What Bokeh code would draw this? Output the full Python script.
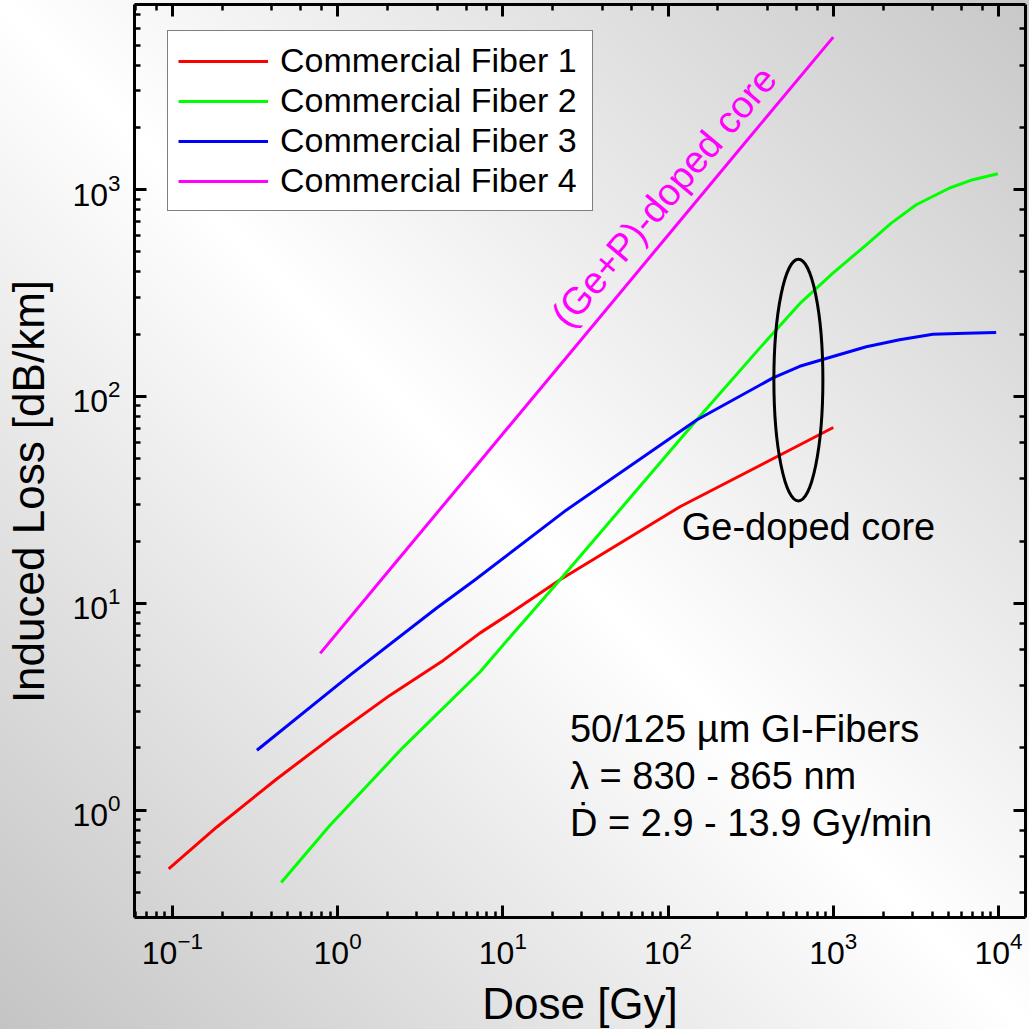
from bokeh.plotting import figure
from bokeh.models import (Range1d, LogAxis, LogTicker, Legend, LegendItem, Label,
                          CustomJSTickFormatter)
from bokeh.embed import file_html
from bokeh.resources import INLINE

# ---- data (Dose [Gy] vs Induced Loss [dB/km]) ----
fiber1_dose = [0.095, 0.186, 0.43, 0.90, 2.08, 4.36, 7.3, 11.1, 22.2, 118, 474, 1000]
fiber1_loss = [0.52, 0.83, 1.42, 2.22, 3.6, 5.3, 7.2, 8.95, 13.0, 29.3, 52, 70.8]

fiber2_dose = [0.456, 0.90, 2.50, 7.3, 11.1, 22.2, 149, 351, 627, 995, 1585, 2244, 3178, 5060, 7000, 9910]
fiber2_loss = [0.447, 0.846, 2.02, 4.67, 6.9, 13.0, 77, 168, 281, 395, 541, 689, 845, 1018, 1117, 1194]

fiber3_dose = [0.325, 1.19, 3.98, 6.8, 24.3, 149, 432, 627, 995, 1585, 2520, 4010, 6370, 9680]
fiber3_loss = [1.95, 4.5, 9.5, 13.0, 28.3, 77, 123, 140, 156, 174, 188, 200, 202, 204]

fiber4_dose = [0.785, 2.0, 7.3, 27, 100, 300, 1000]
fiber4_loss = [5.73, 14.1, 48.8, 171, 602, 1727, 5460]

series_names = ["Commercial Fiber 1", "Commercial Fiber 2",
                "Commercial Fiber 3", "Commercial Fiber 4"]
series_colors = ["#ff0000", "#00ff00", "#0000ff", "#ff00ff"]

ellipse_center_dose = [615]
ellipse_center_loss = [120]

FONT = "Liberation Sans"
NB = "\u00a0"

p = figure(x_axis_type="log", y_axis_type="log",
           x_range=Range1d(0.059, 14570), y_range=Range1d(0.303, 7850),
           frame_width=891, frame_height=913,
           min_border_left=134, min_border_right=4,
           min_border_top=4, min_border_bottom=112,
           output_backend="svg", toolbar_location=None)

p.background_fill_color = None
p.border_fill_color = None
p.outline_line_color = None
p.xgrid.visible = False
p.ygrid.visible = False
p.styles = {"background": "linear-gradient(45deg, #c4c4c4 0%, #ffffff 50%, #c8c8c8 100%)"}


def style_axis(ax, labels=True):
    ax.axis_line_width = 3
    ax.axis_line_color = "black"
    ax.major_tick_line_width = 3
    ax.minor_tick_line_width = 2.5
    ax.major_tick_in = 12
    ax.major_tick_out = 0
    ax.minor_tick_in = 6
    ax.minor_tick_out = 0
    ax.major_tick_line_color = "black"
    ax.minor_tick_line_color = "black"
    if labels:
        ax.major_label_text_font = FONT
        ax.major_label_text_font_size = "32px"
        ax.major_label_text_color = "black"
        ax.axis_label_text_font = FONT
        ax.axis_label_text_font_size = "44px"
        ax.axis_label_text_font_style = "normal"
        ax.axis_label_text_color = "black"
    else:
        ax.formatter = CustomJSTickFormatter(code="return ' ';")
        ax.major_label_text_font_size = "1px"
        ax.major_label_text_alpha = 0
        ax.major_label_standoff = 0


xa = p.xaxis[0]
ya = p.yaxis[0]
style_axis(xa)
style_axis(ya)
xa.axis_label = "Dose [Gy]"
ya.axis_label = "Induced Loss [dB/km]" + NB * 5
xa.major_label_standoff = 14
ya.major_label_standoff = 14
xa.axis_label_standoff = 12
ya.axis_label_standoff = 16

top = LogAxis(ticker=LogTicker())
right = LogAxis(ticker=LogTicker())
style_axis(top, labels=False)
style_axis(right, labels=False)
p.add_layout(top, "above")
p.add_layout(right, "right")

renderers = []
for xs, ys, c in [(fiber1_dose, fiber1_loss, series_colors[0]),
                  (fiber2_dose, fiber2_loss, series_colors[1]),
                  (fiber3_dose, fiber3_loss, series_colors[2]),
                  (fiber4_dose, fiber4_loss, series_colors[3])]:
    r = p.line(xs, ys, line_color=c, line_width=3, line_join="round")
    renderers.append(r)

p.ellipse(x=ellipse_center_dose, y=ellipse_center_loss, width=49, height=242,
          width_units="screen", height_units="screen",
          fill_color=None, line_color="black", line_width=3)

legend = Legend(items=[LegendItem(label=n, renderers=[r]) for n, r in zip(series_names, renderers)],
                location=(33, 706), orientation="vertical",
                label_text_font=FONT, label_text_font_size="34px",
                label_text_color="black",
                glyph_width=90, glyph_height=20, label_standoff=12,
                label_width=302,
                spacing=1, padding=10, margin=0,
                border_line_color="black", border_line_width=1.5,
                background_fill_color="white", background_fill_alpha=1.0)
p.add_layout(legend, "center")

annots = [
    ("50/125 µm GI-Fibers", 25.5, 2.47),
    ("λ = 830 - 865 nm", 25.5, 1.46),
    ("Ḋ = 2.9 - 13.9 Gy/min", 25.5, 0.865),
]
for t, x, y in annots:
    p.add_layout(Label(x=x, y=y, text=t, text_font=FONT, text_font_size="38px",
                       text_color="black", text_baseline="alphabetic", text_align="left"))

p.add_layout(Label(x=121, y=23.4, text="Ge-doped core", text_font=FONT,
                   text_font_size="38px", text_color="black",
                   text_baseline="alphabetic", text_align="left"))

p.add_layout(Label(x=21.9, y=230, text="(Ge+P)-doped core", text_font=FONT,
                   text_font_size="38px", text_color="#ff00ff",
                   angle=50, angle_units="deg",
                   text_baseline="alphabetic", text_align="left"))

open("out.html", "w").write(file_html(p, INLINE))
